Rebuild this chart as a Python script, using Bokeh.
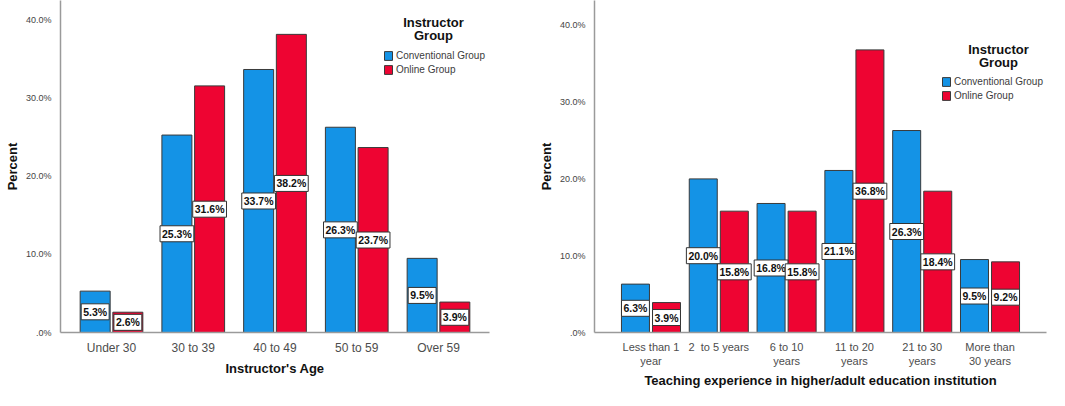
from bokeh.plotting import figure
from bokeh.models import FactorRange, Range1d, FixedTicker, Label, Legend
from bokeh.transform import dodge
from bokeh.layouts import row
from bokeh.core.properties import value
from bokeh.embed import file_html
from bokeh.resources import INLINE

# ---- data ----
age_cats = ["Under 30", "30 to 39", "40 to 49", "50 to 59", "Over 59"]
age_conv = [5.3, 25.3, 33.7, 26.3, 9.5]
age_online = [2.6, 31.6, 38.2, 23.7, 3.9]

exp_cats = ["Less than 1\nyear", "2\u00a0 to 5 years", "6 to 10\nyears", "11 to 20\nyears",
            "21 to 30\nyears", "More than\n30 years"]
exp_conv = [6.3, 20.0, 16.8, 21.1, 26.3, 9.5]
exp_online = [3.9, 15.8, 15.8, 36.8, 18.4, 9.2]

series_names = ["Conventional Group", "Online Group"]
legend_title = ["Instructor", "Group"]
y_ticks = [0, 10, 20, 30, 40]
y_tick_labels = [".0%", "10.0%", "20.0%", "30.0%", "40.0%"]

BLUE = "#1493e6"
RED = "#ee0432"
EDGE = "#3a3a3a"
FONT = "Liberation Sans"


def make_chart(cats, conv, online, xlabel, width, height, y_end, pad, bw, off,
               mbl, mbr, mbb, leg_xy, title_xy, tick_size, title_size):
    p = figure(x_range=FactorRange(factors=cats, range_padding=pad),
               y_range=Range1d(0, y_end), width=width, height=height,
               output_backend="svg", toolbar_location=None,
               min_border_left=mbl, min_border_right=mbr, min_border_top=0,
               min_border_bottom=mbb)
    p.outline_line_color = None
    p.xgrid.grid_line_color = None
    p.ygrid.grid_line_color = None

    data = dict(cat=cats, conv=conv, online=online,
                conv_h=[v / 2 for v in conv], online_h=[v / 2 for v in online],
                conv_t=["%.1f%%" % v for v in conv], online_t=["%.1f%%" % v for v in online])

    r1 = p.vbar(x=dodge("cat", -off, range=p.x_range), top="conv", width=bw, source=data,
                fill_color=BLUE, line_color=EDGE, line_width=1)
    r2 = p.vbar(x=dodge("cat", off, range=p.x_range), top="online", width=bw, source=data,
                fill_color=RED, line_color=EDGE, line_width=1)

    for xoff, ycol, tcol in ((-off, "conv_h", "conv_t"), (off, "online_h", "online_t")):
        p.text(x=dodge("cat", xoff, range=p.x_range), y=ycol, text=tcol, source=data,
               text_align="center", text_baseline="middle",
               text_font=value(FONT), text_font_style="bold", text_font_size="10.5px",
               text_color="#111111",
               background_fill_color="white", border_line_color="#333333",
               border_line_width=1, padding=2)

    leg = Legend(items=[(series_names[0], [r1]), (series_names[1], [r2])],
                 location=leg_xy, orientation="vertical")
    leg.background_fill_alpha = 0
    leg.border_line_color = None
    leg.padding = 0
    leg.margin = 0
    leg.spacing = 3
    leg.glyph_width = 10
    leg.glyph_height = 11
    leg.label_height = 11
    leg.label_standoff = 3
    leg.label_text_font = FONT
    leg.label_text_font_size = "10px"
    leg.label_text_color = "#3c3c3c"
    p.add_layout(leg, "center")

    for i, t in enumerate(legend_title):
        p.add_layout(Label(x=title_xy[0], y=title_xy[1] - i * 13, x_units="screen",
                           y_units="screen", text=t, text_align="center",
                           text_baseline="middle", text_font=FONT,
                           text_font_style="bold", text_font_size="13px",
                           text_color="#111111"))

    for ax in (p.xaxis[0], p.yaxis[0]):
        ax.axis_line_color = "#9a9a9a"
        ax.axis_line_width = 1.5
        ax.major_tick_line_color = None
        ax.minor_tick_line_color = None
        ax.axis_label_text_font = FONT
        ax.axis_label_text_font_style = "bold"
        ax.axis_label_text_color = "#111111"
        ax.major_label_text_font = FONT

    p.xaxis.axis_label = xlabel
    p.xaxis.axis_label_text_font_size = title_size
    p.xaxis.axis_label_standoff = 3
    p.xaxis.major_label_text_font_size = tick_size
    p.xaxis.major_label_text_color = "#4d4d4d"
    p.xaxis.major_label_standoff = 2

    p.yaxis.axis_label = "Percent"
    p.yaxis.axis_label_text_font_size = "13px"
    p.yaxis.axis_label_standoff = 3
    p.yaxis.ticker = FixedTicker(ticks=y_ticks)
    p.yaxis.major_label_overrides = {t: l for t, l in zip(y_ticks, y_tick_labels)}
    p.yaxis.major_label_text_font_size = "9px"
    p.yaxis.major_label_text_color = "#444444"
    p.yaxis.major_label_standoff = 3
    return p


left = make_chart(age_cats, age_conv, age_online, "Instructor's Age",
                  width=532, height=390, y_end=42.54, pad=0.0496, bw=0.367, off=0.2,
                  mbl=60, mbr=43, mbb=55, leg_xy=(323, 257), title_xy=(373, 310),
                  tick_size="12px", title_size="13px")
right = make_chart(exp_cats, exp_conv, exp_online,
                   "Teaching experience in higher/adult education institution",
                   width=517, height=390, y_end=43.23, pad=0.111, bw=0.413, off=0.229,
                   mbl=62, mbr=3, mbb=55, leg_xy=(347, 231), title_xy=(404, 283),
                   tick_size="11px", title_size="13px")

layout = row(left, right)
open("out.html", "w").write(file_html(layout, INLINE))
